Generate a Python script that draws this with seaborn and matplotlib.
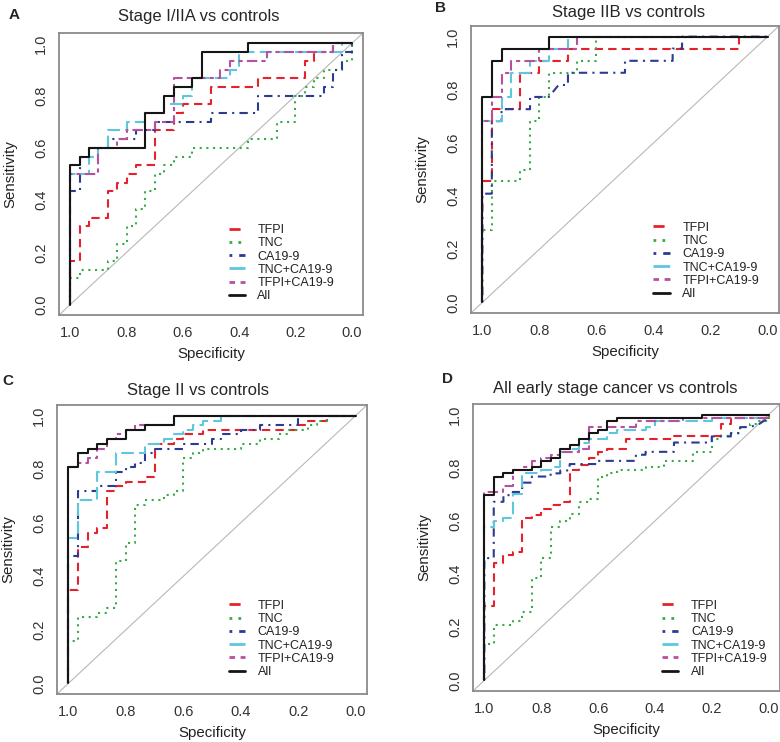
import pandas as pd
import seaborn as sns
import matplotlib.pyplot as plt

# ROC points as (specificity, sensitivity)
markers = ['TFPI', 'TNC', 'CA19-9', 'TNC+CA19-9', 'TFPI+CA19-9', 'All']
colors = ['#e5222b', '#3aaa48', '#2c3b92', '#5ec6de', '#b5519f', '#151515']
dash_styles = [(4, 2.5), (1, 2.2), (1, 2.5, 4, 2.5), (6, 2.5), (2, 2, 5, 2), '']

# Panel A: Stage I/IIA vs controls
A_TFPI = [(1, 0), (1, .167), (.967, .167), (.967, .3), (.933, .3), (.933, .333), (.867, .333), (.867, .433),
          (.833, .433), (.833, .467), (.8, .467), (.8, .5), (.767, .5), (.767, .533), (.7, .533), (.7, .667),
          (.633, .667), (.633, .733), (.6, .733), (.6, .767), (.5, .767), (.5, .833), (.333, .833), (.333, .867),
          (.167, .867), (.167, .933), (.133, .933), (.133, .967), (.067, .967), (.067, 1), (0, 1)]
A_TNC = [(1, 0), (1, .1), (.967, .1), (.967, .133), (.867, .133), (.867, .167), (.833, .167), (.833, .233),
         (.8, .233), (.8, .3), (.767, .3), (.767, .367), (.733, .367), (.733, .433), (.7, .433), (.7, .5),
         (.667, .5), (.667, .533), (.633, .533), (.633, .567), (.567, .567), (.567, .6), (.367, .6), (.367, .633),
         (.267, .633), (.267, .7), (.2, .7), (.2, .8), (.167, .8), (.167, .833), (.133, .833), (.133, .867),
         (.1, .867), (.1, .9), (.033, .9), (.033, .933), (0, .933), (0, 1)]
A_CA199 = [(1, 0), (1, .433), (.967, .433), (.967, .567), (.933, .567), (.933, .6), (.867, .6), (.867, .633),
           (.767, .633), (.767, .667), (.7, .667), (.7, .7), (.5, .7), (.5, .733), (.333, .733), (.333, .8),
           (.1, .8), (.1, .833), (.067, .833), (.067, .9), (.033, .9), (.033, .967), (0, .967), (0, 1)]
A_TNC_CA199 = [(1, 0), (1, .5), (.933, .5), (.933, .567), (.9, .567), (.9, .6), (.867, .6), (.867, .667),
               (.8, .667), (.8, .7), (.733, .7), (.733, .733), (.667, .733), (.667, .767), (.6, .767), (.6, .8),
               (.567, .8), (.567, .867), (.433, .867), (.433, .9), (.4, .9), (.4, .967), (.033, .967), (.033, 1), (0, 1)]
A_TFPI_CA199 = [(1, 0), (1, .5), (.9, .5), (.9, .6), (.833, .6), (.833, .633), (.8, .633), (.8, .667), (.7, .667),
                (.7, .7), (.633, .7), (.633, .867), (.467, .867), (.467, .9), (.433, .9), (.433, .933), (.3, .933),
                (.3, .967), (.067, .967), (.067, 1), (0, 1)]
A_ALL = [(1, 0), (1, .533), (.967, .533), (.967, .567), (.933, .567), (.933, .6), (.733, .6), (.733, .733),
         (.667, .733), (.667, .8), (.633, .8), (.633, .833), (.567, .833), (.567, .867), (.533, .867), (.533, .967),
         (.367, .967), (.367, 1), (0, 1)]

# Panel B: Stage IIB vs controls
B_TFPI = [(1, 0), (1, .455), (.967, .455), (.967, .727), (.867, .727), (.867, .864), (.8, .864), (.8, .909),
          (.7, .909), (.7, .955), (.1, .955), (.1, 1), (0, 1)]
B_TNC = [(1, 0), (1, .273), (.967, .273), (.967, .455), (.867, .455), (.867, .5), (.833, .5), (.833, .682),
         (.8, .682), (.8, .773), (.767, .773), (.767, .864), (.667, .864), (.667, .909), (.6, .909), (.6, 1), (0, 1)]
B_CA199 = [(1, 0), (1, .409), (.967, .409), (.967, .682), (.933, .682), (.933, .727), (.833, .727), (.833, .773),
           (.767, .773), (.733, .818), (.7, .818), (.7, .864), (.5, .864), (.5, .909), (.333, .909), (.333, .955),
           (.3, .955), (.3, 1), (0, 1)]
B_TNC_CA199 = [(1, 0), (1, .682), (.933, .682), (.933, .773), (.9, .773), (.9, .864), (.833, .864), (.833, .909),
               (.767, .909), (.767, .955), (.7, .955), (.7, 1), (0, 1)]
B_TFPI_CA199 = [(1, 0), (1, .682), (.967, .682), (.967, .773), (.933, .773), (.933, .864), (.9, .864), (.9, .909),
                (.8, .909), (.8, .955), (.667, .955), (.667, 1), (0, 1)]
B_ALL = [(1, 0), (1, .773), (.967, .773), (.967, .909), (.933, .909), (.933, .955), (.767, .955), (.767, 1), (0, 1)]

# Panel C: Stage II vs controls
C_TFPI = [(1, 0), (1, .35), (.967, .35), (.967, .509), (.933, .509), (.933, .561), (.9, .561), (.9, .579),
          (.867, .579), (.867, .719), (.833, .719), (.833, .737), (.8, .737), (.8, .754), (.733, .754), (.733, .772),
          (.7, .772), (.7, .895), (.633, .895), (.633, .912), (.6, .912), (.6, .93), (.533, .93), (.533, .947),
          (.2, .947), (.2, .965), (.167, .965), (.167, .982), (.1, .982), (.1, 1), (0, 1)]
C_TNC = [(1, 0), (1, .158), (.967, .158), (.967, .246), (.9, .246), (.9, .263), (.867, .263), (.867, .281),
         (.833, .281), (.833, .456), (.8, .456), (.8, .526), (.767, .526), (.767, .667), (.733, .667), (.733, .684),
         (.667, .684), (.667, .702), (.633, .702), (.633, .719), (.6, .719), (.6, .842), (.567, .842), (.567, .86),
         (.533, .86), (.533, .877), (.4, .877), (.4, .895), (.333, .895), (.333, .912), (.267, .912), (.267, .93),
         (.233, .93), (.233, .947), (.167, .947), (.167, .965), (.133, .965), (.133, .982), (.1, .982), (.1, 1), (0, 1)]
C_CA199 = [(1, 0), (1, .474), (.967, .474), (.967, .719), (.9, .719), (.9, .737), (.833, .737), (.833, .789),
           (.8, .789), (.8, .807), (.767, .807), (.767, .825), (.733, .825), (.733, .86), (.7, .86), (.7, .877),
           (.6, .877), (.6, .895), (.5, .895), (.5, .912), (.467, .912), (.467, .93), (.4, .93), (.4, .947),
           (.333, .947), (.333, .965), (.2, .965), (.2, 1), (0, 1)]
C_TNC_CA199 = [(1, 0), (1, .544), (.967, .544), (.967, .684), (.9, .684), (.9, .789), (.833, .789), (.833, .86),
               (.733, .86), (.733, .895), (.667, .895), (.667, .912), (.633, .912), (.633, .93), (.6, .93), (.6, .947),
               (.567, .947), (.567, .965), (.533, .965), (.533, .982), (.467, .982), (.467, 1), (0, 1)]
C_TFPI_CA199 = [(1, 0), (1, .807), (.967, .807), (.967, .825), (.933, .825), (.933, .842), (.9, .842), (.9, .877),
                (.867, .877), (.867, .912), (.833, .912), (.833, .93), (.8, .93), (.8, .947), (.767, .947),
                (.767, .965), (.633, .965), (.633, 1), (0, 1)]
C_ALL = [(1, 0), (1, .808), (.967, .808), (.967, .86), (.933, .86), (.933, .877), (.9, .877), (.9, .895),
         (.867, .895), (.867, .912), (.8, .912), (.8, .947), (.733, .947), (.733, .965), (.633, .965), (.633, 1), (0, 1)]

# Panel D: All early stage cancer vs controls
D_TFPI = [(1, 0), (1, .28), (.967, .28), (.967, .44), (.933, .44), (.933, .47), (.9, .47), (.9, .483),
          (.867, .483), (.867, .61), (.833, .61), (.833, .622), (.8, .622), (.8, .646), (.767, .646), (.767, .66),
          (.733, .66), (.733, .672), (.7, .672), (.7, .79), (.667, .79), (.667, .81), (.633, .81), (.633, .837),
          (.6, .837), (.6, .86), (.567, .86), (.567, .872), (.5, .872), (.5, .907), (.333, .907), (.333, .918),
          (.167, .918), (.167, .965), (.133, .965), (.133, .988), (0, .988), (0, 1)]
D_TNC = [(1, 0), (1, .135), (.967, .135), (.967, .21), (.9, .21), (.9, .222), (.867, .222), (.867, .257),
         (.833, .257), (.833, .385), (.8, .385), (.8, .46), (.767, .46), (.767, .578), (.733, .578), (.733, .6),
         (.7, .6), (.7, .625), (.667, .625), (.667, .672), (.633, .672), (.633, .683), (.6, .683), (.6, .767),
         (.567, .767), (.567, .779), (.533, .779), (.533, .79), (.433, .79), (.433, .802), (.367, .802),
         (.367, .826), (.267, .826), (.267, .86), (.2, .86), (.2, .907), (.167, .907), (.167, .918), (.133, .918),
         (.133, .93), (.1, .93), (.1, .953), (.067, .953), (.067, .965), (.033, .965), (.033, .977), (0, .977), (0, 1)]
D_CA199 = [(1, 0), (1, .46), (.967, .46), (.967, .672), (.933, .672), (.933, .697), (.9, .697), (.9, .709),
           (.867, .709), (.867, .744), (.833, .744), (.833, .767), (.767, .767), (.767, .779), (.733, .779),
           (.733, .79), (.7, .79), (.7, .814), (.6, .814), (.6, .826), (.467, .826), (.467, .849), (.433, .849),
           (.433, .86), (.333, .86), (.333, .895), (.2, .895), (.2, .918), (.133, .918), (.133, .93), (.1, .93),
           (.1, .953), (.067, .953), (.033, .965), (0, .988), (0, 1)]
D_TNC_CA199 = [(1, 0), (1, .578), (.967, .578), (.967, .6), (.933, .6), (.933, .61), (.9, .61), (.9, .7),
               (.867, .7), (.867, .779), (.8, .779), (.8, .79), (.767, .79), (.767, .802), (.733, .802), (.733, .86),
               (.7, .86), (.7, .872), (.667, .872), (.667, .895), (.633, .895), (.633, .907), (.567, .907),
               (.567, .93), (.533, .93), (.533, .942), (.433, .942), (.433, .953), (.4, .953), (.4, .977),
               (.2, .977), (.2, .988), (0, .988), (0, 1)]
D_TFPI_CA199 = [(1, 0), (1, .709), (.933, .709), (.933, .733), (.9, .733), (.9, .79), (.867, .79), (.867, .802),
                (.833, .802), (.833, .826), (.8, .826), (.8, .837), (.767, .837), (.767, .849), (.733, .849),
                (.733, .86), (.667, .86), (.667, .872), (.633, .872), (.633, .953), (.467, .953), (.467, .977),
                (.3, .977), (.3, .988), (0, .988), (0, 1)]
D_ALL = [(1, 0), (1, .698), (.967, .698), (.967, .767), (.933, .767), (.933, .779), (.9, .779), (.9, .791),
         (.833, .791), (.833, .802), (.8, .802), (.8, .826), (.767, .826), (.767, .837), (.733, .837), (.733, .872),
         (.7, .872), (.7, .884), (.667, .884), (.667, .907), (.633, .907), (.633, .93), (.6, .93), (.6, .942),
         (.567, .942), (.567, .977), (.533, .977), (.533, .988), (.233, .988), (.233, 1), (0, 1)]

panels = [
    ('A', 'Stage I/IIA vs controls', [A_TFPI, A_TNC, A_CA199, A_TNC_CA199, A_TFPI_CA199, A_ALL]),
    ('B', 'Stage IIB vs controls', [B_TFPI, B_TNC, B_CA199, B_TNC_CA199, B_TFPI_CA199, B_ALL]),
    ('C', 'Stage II vs controls', [C_TFPI, C_TNC, C_CA199, C_TNC_CA199, C_TFPI_CA199, C_ALL]),
    ('D', 'All early stage cancer vs controls', [D_TFPI, D_TNC, D_CA199, D_TNC_CA199, D_TFPI_CA199, D_ALL]),
]

# layout measured in pixels of the 780x742 figure
W, H = 780, 742
axes_px = {'A': (59, 363, 33, 315), 'B': (471, 779, 26, 313), 'C': (57, 367, 405, 694), 'D': (473, 780, 404, 691)}
letter_px = {'A': (14, 15), 'B': (440, 8), 'C': (8, 381), 'D': (448, 379)}
title_px = {'A': (199, 17), 'B': (629, 12), 'C': (198, 391), 'D': (615, 388)}
legend_anchor = {'A': (0.905, 0.045), 'B': (0.935, 0.045), 'C': (0.895, 0.055), 'D': (0.96, 0.045)}


def roc_frame(curves):
    rows = []
    for name, pts in zip(markers, curves):
        for spec, sens in pts:
            rows.append({'marker': name, 'spec': spec, 'sens': sens})
    return pd.DataFrame(rows)


sns.set_style('white')
plt.rcParams['font.family'] = ['Liberation Sans', 'DejaVu Sans']

fig = plt.figure(figsize=(W / 100, H / 100), dpi=100)
grey = '#8a8a8a'

for letter, title, curves in panels:
    x0, x1, yt, yb = axes_px[letter]
    ax = fig.add_axes([x0 / W, 1 - yb / H, (x1 - x0) / W, (yb - yt) / H])
    ax.axline((1, 0), slope=-1, color='#b8b8b8', lw=0.8, zorder=1)
    df = roc_frame(curves)
    sns.lineplot(data=df, x='spec', y='sens', hue='marker', style='marker',
                 hue_order=markers, style_order=markers,
                 palette=dict(zip(markers, colors)), dashes=dict(zip(markers, dash_styles)),
                 sort=False, estimator=None, lw=1.5, ax=ax)
    ax.set_xlim(1.04, -0.04)
    ax.set_ylim(-0.04, 1.04)
    ticks = [0, 0.2, 0.4, 0.6, 0.8, 1.0]
    ax.set_xticks(ticks)
    ax.set_yticks(ticks)
    ax.set_xticklabels(['%.1f' % t for t in ticks])
    ax.set_yticklabels(['%.1f' % t for t in ticks], rotation=90, va='center')
    ax.tick_params(direction='out', length=5, width=1, color=grey, labelcolor='#333333',
                   labelsize=10.5, pad=3)
    for sp in ax.spines.values():
        sp.set_visible(True)
        sp.set_color(grey)
        sp.set_linewidth(1.3)
    ax.set_xlabel('Specificity', fontsize=10.8, color='#222222', labelpad=5)
    ax.set_ylabel('Sensitivity', fontsize=10.8, color='#222222', labelpad=12)

    handles, labels = ax.get_legend_handles_labels()
    for h in handles:
        h.set_linewidth(2)
    ax.legend(handles, labels, loc='lower right', bbox_to_anchor=legend_anchor[letter],
              frameon=False, fontsize=9, handlelength=1.3, handletextpad=1.0,
              labelspacing=0.1, borderpad=0, borderaxespad=0, labelcolor='#222222')

    tx, ty = title_px[letter]
    fig.text(tx / W, 1 - ty / H, title, ha='center', va='center', fontsize=12)
    lx, ly = letter_px[letter]
    fig.text(lx / W, 1 - ly / H, letter, ha='center', va='center', fontsize=11, fontweight='bold')

fig.savefig('out.png', dpi=100)
